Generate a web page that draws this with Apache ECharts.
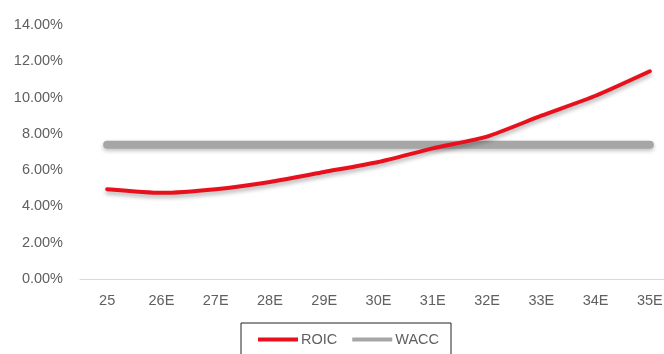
<!DOCTYPE html>
<html>
<head>
<meta charset="utf-8">
<script src="https://cdn.jsdelivr.net/npm/echarts@6/dist/echarts.min.js"></script>
<style>
  html, body { margin: 0; padding: 0; background: #fff; overflow: hidden; }
  /* the plot runs slightly past the right edge of the page */
  #chart { width: 677px; height: 354px; }
</style>
</head>
<body>
<div id="chart"></div>
<script>
// Fiscal years (E = estimate)
const years = ['25', '26E', '27E', '28E', '29E', '30E', '31E', '32E', '33E', '34E', '35E'];
// Return on invested capital, %
const roic = [4.95, 4.75, 4.95, 5.35, 5.9, 6.45, 7.2, 7.85, 9.0, 10.1, 11.45];
// Weighted average cost of capital, %
const wacc = [7.4, 7.4, 7.4, 7.4, 7.4, 7.4, 7.4, 7.4, 7.4, 7.4, 7.4];
// Value-axis ticks
const yTicks = { min: 0, max: 14, interval: 2 };

const font = '"Liberation Sans", Arial, sans-serif';
const textColor = '#606060';

const chart = echarts.init(document.getElementById('chart'), null, { renderer: 'canvas' });
chart.setOption({
  animation: false,
  backgroundColor: '#ffffff',
  grid: { left: 80, right: 0, top: 25, bottom: 75, containLabel: false },
  xAxis: {
    type: 'category',
    data: years,
    boundaryGap: true,
    axisLine: { lineStyle: { color: '#d9d9d9', width: 1 } },
    axisTick: { show: false },
    axisLabel: { color: textColor, fontFamily: font, fontSize: 14.5, margin: 14 }
  },
  yAxis: {
    type: 'value',
    min: yTicks.min,
    max: yTicks.max,
    interval: yTicks.interval,
    axisLine: { show: false },
    axisTick: { show: false },
    splitLine: { show: false },
    axisLabel: {
      color: textColor, fontFamily: font, fontSize: 14.5, margin: 17,
      formatter: v => v.toFixed(2) + '%'
    }
  },
  legend: {
    top: 323,
    left: 241,
    padding: [9, 12, 12, 17],
    borderColor: '#222',
    borderWidth: 1,
    itemGap: 15,
    itemWidth: 40,
    itemHeight: 4,
    textStyle: { color: textColor, fontFamily: font, fontSize: 14.5, padding: [0, 0, 0, -2] },
    data: [
      { name: 'ROIC', icon: 'rect', itemStyle: { color: '#e8101c' } },
      { name: 'WACC', icon: 'rect', itemStyle: { color: '#a6a6a6' } }
    ]
  },
  series: [
    {
      name: 'WACC',
      type: 'line',
      data: wacc,
      symbol: 'none',
      lineStyle: {
        color: '#a6a6a6', width: 8, cap: 'round',
        shadowColor: 'rgba(0,0,0,0.25)', shadowBlur: 4, shadowOffsetY: 2
      },
      z: 2
    },
    {
      name: 'ROIC',
      type: 'line',
      data: roic,
      symbol: 'none',
      smooth: 0.2,
      lineStyle: {
        color: '#e8101c', width: 4, cap: 'round',
        shadowColor: 'rgba(0,0,0,0.3)', shadowBlur: 4, shadowOffsetY: 3
      },
      z: 3
    }
  ]
});
</script>
</body>
</html>
